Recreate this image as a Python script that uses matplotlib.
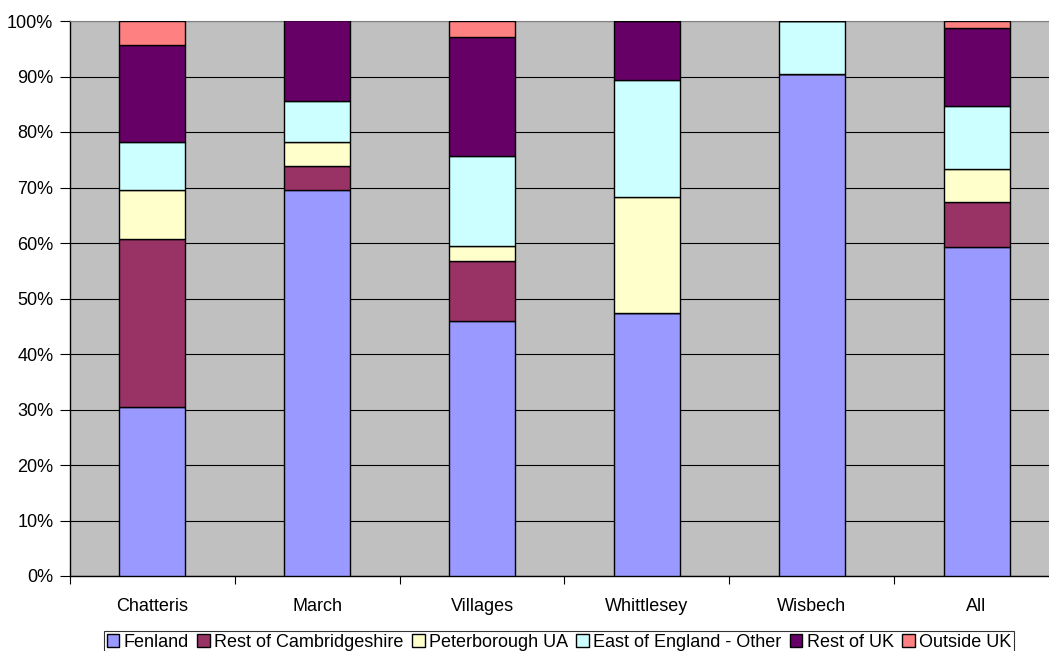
import numpy as np
import matplotlib.pyplot as plt
from matplotlib.ticker import FixedLocator, PercentFormatter

plt.rcParams['font.family'] = ['Liberation Sans', 'DejaVu Sans']

areas = ['Chatteris', 'March', 'Villages', 'Whittlesey', 'Wisbech', 'All']

# share of responses by origin (%), one list per origin
fenland = [30.4, 69.5, 45.9, 47.3, 90.5, 59.2]
rest_cambs = [30.4, 4.4, 10.9, 0.0, 0.0, 8.2]
peterborough = [8.7, 4.3, 2.6, 21.0, 0.0, 5.9]
east_other = [8.7, 7.3, 16.2, 21.1, 9.5, 11.3]
rest_uk = [17.4, 14.6, 21.6, 10.6, 0.0, 14.1]
outside_uk = [4.4, 0.0, 2.8, 0.0, 0.0, 1.3]

series = [
    ('Fenland', fenland, '#9999FF'),
    ('Rest of Cambridgeshire', rest_cambs, '#993366'),
    ('Peterborough UA', peterborough, '#FFFFCC'),
    ('East of England - Other', east_other, '#CCFFFF'),
    ('Rest of UK', rest_uk, '#660066'),
    ('Outside UK', outside_uk, '#FF8080'),
]

fig = plt.figure(figsize=(10.49, 6.51), dpi=100)
ax = fig.add_axes([70 / 1049, 1 - 576 / 651, 989 / 1049, 555 / 651])
ax.set_facecolor('#C0C0C0')

x = np.arange(len(areas))
bottom = np.zeros(len(areas))
for label, vals, color in series:
    vals = np.array(vals)
    ax.bar(x, vals, 0.4, bottom=bottom, color=color, edgecolor='black',
           linewidth=1.0, label=label, zorder=3)
    bottom += vals

ax.set_xlim(-0.5, len(areas) - 0.5)
ax.set_ylim(0, 100)
ax.yaxis.set_major_locator(FixedLocator(np.arange(0, 101, 10)))
ax.yaxis.set_major_formatter(PercentFormatter(decimals=0))
ax.grid(axis='y', color='black', linewidth=0.8, zorder=1)

ax.set_xticks(x)
ax.set_xticklabels(areas)
ax.xaxis.set_minor_locator(FixedLocator(np.arange(-0.5, len(areas), 1)))
ax.tick_params(axis='x', which='major', length=0, pad=16, labelsize=13)
ax.tick_params(axis='x', which='minor', length=6, width=0.8, direction='out')
ax.tick_params(axis='y', length=7, width=0.8, pad=5, labelsize=13)

for side in ['top', 'right']:
    ax.spines[side].set_color('#808080')
for side in ['left', 'bottom']:
    ax.spines[side].set_color('black')
    ax.spines[side].set_linewidth(1.0)

leg = fig.legend(loc='upper left', bbox_to_anchor=(104 / 1049, 1 - 631 / 651),
                 ncol=6, fontsize=13, frameon=True, fancybox=False,
                 edgecolor='black', borderpad=0.15, handlelength=0.7,
                 handleheight=0.7, handletextpad=0.25, columnspacing=0.45,
                 borderaxespad=0)
leg.get_frame().set_linewidth(0.8)

fig.savefig('out.png', dpi=100)
